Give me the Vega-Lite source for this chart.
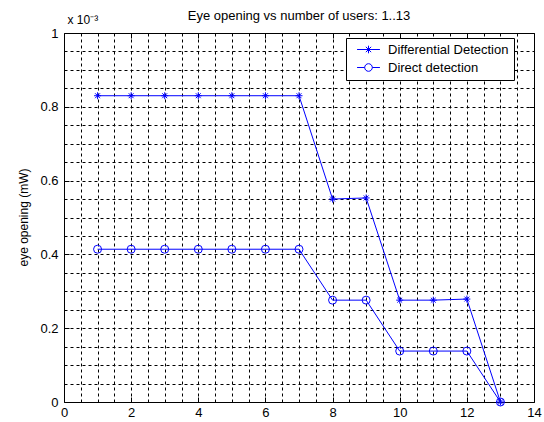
{
  "$schema": "https://vega.github.io/schema/vega-lite/v6.json",
  "width": 470,
  "height": 369,
  "autosize": {"type": "none"},
  "padding": {"left": 64, "top": 33, "right": 10, "bottom": 20},
  "background": "white",
  "config": {
    "view": {"stroke": "black", "strokeWidth": 1},
    "font": "Liberation Sans",
    "axis": {"labelFont": "Liberation Sans", "titleFont": "Liberation Sans", "labelColor": "black", "titleColor": "black", "labelFlush": false, "labelOverlap": false, "tickColor": "black", "domain": false}
  },
  "title": {"text": "Eye opening vs number of users: 1..13", "fontSize": 13, "fontWeight": "normal", "font": "Liberation Sans", "color": "black", "anchor": "middle", "offset": -10},
  "data": {"values": [
    {"users": 1, "series": "Differential Detection", "eye": 0.00083},
    {"users": 2, "series": "Differential Detection", "eye": 0.00083},
    {"users": 3, "series": "Differential Detection", "eye": 0.00083},
    {"users": 4, "series": "Differential Detection", "eye": 0.00083},
    {"users": 5, "series": "Differential Detection", "eye": 0.00083},
    {"users": 6, "series": "Differential Detection", "eye": 0.00083},
    {"users": 7, "series": "Differential Detection", "eye": 0.00083},
    {"users": 8, "series": "Differential Detection", "eye": 0.00055},
    {"users": 9, "series": "Differential Detection", "eye": 0.000553},
    {"users": 10, "series": "Differential Detection", "eye": 0.000276},
    {"users": 11, "series": "Differential Detection", "eye": 0.000276},
    {"users": 12, "series": "Differential Detection", "eye": 0.000279},
    {"users": 13, "series": "Differential Detection", "eye": 0},
    {"users": 1, "series": "Direct detection", "eye": 0.000414},
    {"users": 2, "series": "Direct detection", "eye": 0.000414},
    {"users": 3, "series": "Direct detection", "eye": 0.000414},
    {"users": 4, "series": "Direct detection", "eye": 0.000414},
    {"users": 5, "series": "Direct detection", "eye": 0.000414},
    {"users": 6, "series": "Direct detection", "eye": 0.000414},
    {"users": 7, "series": "Direct detection", "eye": 0.000414},
    {"users": 8, "series": "Direct detection", "eye": 0.000276},
    {"users": 9, "series": "Direct detection", "eye": 0.000276},
    {"users": 10, "series": "Direct detection", "eye": 0.000138},
    {"users": 11, "series": "Direct detection", "eye": 0.000138},
    {"users": 12, "series": "Direct detection", "eye": 0.000138},
    {"users": 13, "series": "Direct detection", "eye": 0}
  ]},
  "layer": [
    {
      "transform": [{"filter": "datum.series === 'Differential Detection'"}],
      "mark": {"type": "line", "color": "#0000ff", "strokeWidth": 1},
      "encoding": {
        "x": {"field": "users", "type": "quantitative", "scale": {"domain": [0, 14], "nice": false, "zero": false},
          "axis": {"values": [0.5,1,1.5,2,2.5,3,3.5,4,4.5,5,5.5,6,6.5,7,7.5,8,8.5,9,9.5,10,10.5,11,11.5,12,12.5,13,13.5], "grid": true, "gridDash": [3,3], "gridColor": "black", "gridOpacity": 1, "gridWidth": 1, "labels": false, "ticks": false, "title": null, "orient": "bottom"}},
        "y": {"field": "eye", "type": "quantitative", "scale": {"domain": [0, 0.001], "nice": false},
          "axis": {"values": [0.00005,0.0001,0.00015,0.0002,0.00025,0.0003,0.00035,0.0004,0.00045,0.0005,0.00055,0.0006,0.00065,0.0007,0.00075,0.0008,0.00085,0.0009,0.00095], "grid": true, "gridDash": [3,3], "gridColor": "black", "gridOpacity": 1, "gridWidth": 1, "labels": false, "ticks": false, "title": null, "orient": "left"}}
      }
    },
    {
      "transform": [{"filter": "datum.series === 'Direct detection'"}],
      "mark": {"type": "line", "color": "#0000ff", "strokeWidth": 1},
      "encoding": {
        "x": {"field": "users", "type": "quantitative",
          "axis": {"values": [0,2,4,6,8,10,12,14], "grid": false, "ticks": false, "labelPadding": 4, "labelFontSize": 13, "title": null, "orient": "bottom"}},
        "y": {"field": "eye", "type": "quantitative",
          "axis": {"values": [0,0.0002,0.0004,0.0006,0.0008,0.001], "grid": false, "ticks": false, "labelPadding": 6, "labelFontSize": 13, "labelExpr": "format(datum.value*1000, '~g')", "title": "eye opening (mW)", "titleFontSize": 12, "titleFontWeight": "normal", "titleX": -41, "titleY": 184, "titleAngle": -90, "titleAlign": "center", "titleBaseline": "middle", "orient": "left"}}
      }
    },
    {
      "transform": [{"filter": "datum.series === 'Differential Detection'"}],
      "mark": {"type": "point", "shape": "M-1,0L1,0M0,-1L0,1M-0.7,-0.7L0.7,0.7M-0.7,0.7L0.7,-0.7", "filled": false, "color": "#0000ff", "strokeWidth": 1, "size": 49, "opacity": 1},
      "encoding": {
        "x": {"field": "users", "type": "quantitative",
          "axis": {"values": [0,2,4,6,8,10,12,14], "grid": false, "ticks": true, "tickSize": -5, "labels": false, "title": null, "orient": "top"}},
        "y": {"field": "eye", "type": "quantitative",
          "axis": {"values": [0,0.0002,0.0004,0.0006,0.0008,0.001], "grid": false, "ticks": true, "tickSize": -5, "labels": false, "title": null, "orient": "right"}}
      }
    },
    {
      "transform": [{"filter": "datum.series === 'Direct detection'"}],
      "mark": {"type": "point", "shape": "circle", "filled": false, "color": "#0000ff", "strokeWidth": 1, "size": 64, "opacity": 1},
      "encoding": {
        "x": {"field": "users", "type": "quantitative",
          "axis": {"values": [0,2,4,6,8,10,12,14], "grid": false, "ticks": true, "tickSize": -5, "labels": false, "title": null, "orient": "bottom"}},
        "y": {"field": "eye", "type": "quantitative",
          "axis": {"values": [0,0.0002,0.0004,0.0006,0.0008,0.001], "grid": false, "ticks": true, "tickSize": -5, "labels": false, "title": "x 10⁻³", "titleFontSize": 12, "titleFontWeight": "normal", "titleX": 3, "titleY": -10, "titleAngle": 0, "titleAlign": "left", "titleBaseline": "alphabetic", "orient": "left"}}
      }
    },
    {
      "mark": {"type": "point", "filled": false, "color": "#0000ff", "opacity": 0},
      "encoding": {
        "x": {"field": "users", "type": "quantitative", "axis": null},
        "y": {"field": "eye", "type": "quantitative", "axis": null},
        "shape": {"field": "series", "type": "nominal",
          "scale": {"domain": ["Differential Detection", "Direct detection"], "range": ["M-3,0L3,0M0,-1L0,1M-0.7,-0.7L0.7,0.7M-0.7,0.7L0.7,-0.7", "M-3,0L-1,0M1,0L3,0M-1,0A1,1 0 1,1 1,0A1,1 0 1,1 -1,0"]},
          "legend": {"orient": "none", "legendX": 282, "legendY": 5, "title": null, "padding": 5, "strokeColor": "black", "fillColor": "white", "symbolOffset": 11, "labelOffset": 13, "labelFontSize": 13, "labelFont": "Liberation Sans", "labelColor": "black", "symbolOpacity": 1, "symbolStrokeColor": "#0000ff", "symbolFillColor": "transparent", "symbolStrokeWidth": 1, "symbolSize": 58, "rowPadding": 4, "cornerRadius": 0}}
      }
    }
  ],
  "resolve": {"axis": {"x": "independent", "y": "independent"}, "scale": {"shape": "independent"}}
}
